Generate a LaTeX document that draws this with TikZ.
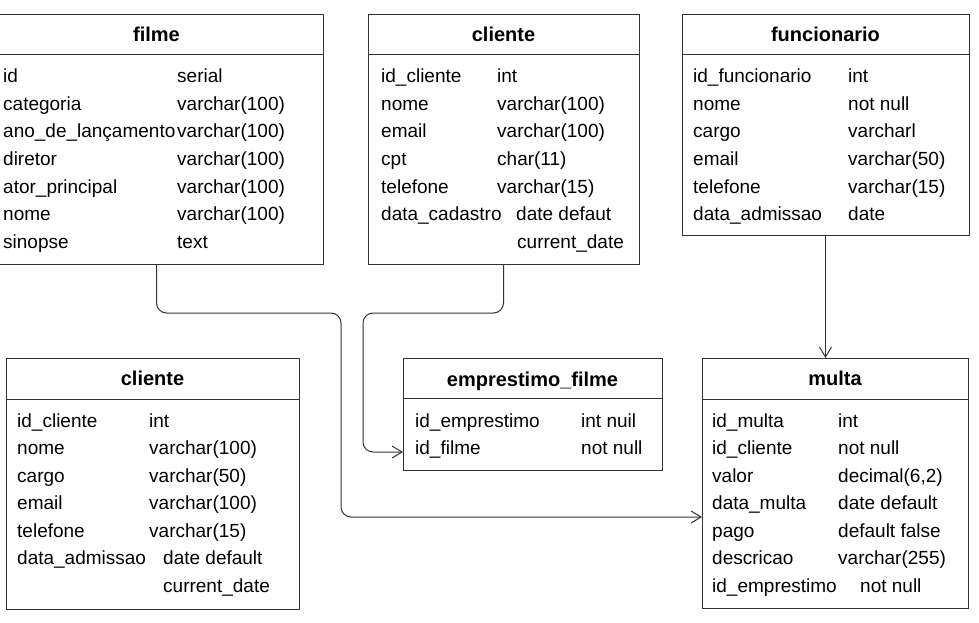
\documentclass[tikz,border=0pt]{standalone}
\usepackage{fontspec}
\setmainfont{Liberation Sans}
\usetikzlibrary{arrows.meta}
\definecolor{linha}{HTML}{333333}
\tikzset{
  tabela/.style={draw=linha, line width=1pt, inner sep=0pt, outer sep=0pt, anchor=north west},
  titulo/.style={font=\fontsize{20}{24}\selectfont\bfseries, anchor=base, inner sep=0pt},
  campo/.style={font=\fontsize{19}{23}\selectfont, anchor=base west, inner sep=0pt},
  ligacao/.style={draw=linha, line width=1pt, rounded corners=10pt, -{Straight Barb[length=10pt,width=12pt]}}
}
\begin{document}
\begin{tikzpicture}[x=1pt, y=-1pt]
  \useasboundingbox (0,0) rectangle (979,623);

  % filme
  \node[tabela, minimum width=333pt, minimum height=249pt] (filme) at (-10,15) {};
  \draw[linha, line width=1pt] ([yshift=-40pt]filme.north west) -- ([yshift=-40pt]filme.north east);
  \node[titulo] (filme-titulo) at ([yshift=-27pt]filme.north) {filme};
  \foreach \campo/\tipo [count=\i from 0] in {id/serial, categoria/varchar(100), ano\_de\_lançamento/varchar(100),
      diretor/varchar(100), ator\_principal/varchar(100), nome/varchar(100), sinopse/text} {
    \node[campo] (filme-c\i) at (3, 83+27.5*\i) {\campo};
    \node[campo] (filme-t\i) at (177, 83+27.5*\i) {\tipo};
  }

  % cliente (topo)
  \node[tabela, minimum width=271pt, minimum height=249pt] (cliente) at (368,15) {};
  \draw[linha, line width=1pt] ([yshift=-40pt]cliente.north west) -- ([yshift=-40pt]cliente.north east);
  \node[titulo] (cliente-titulo) at ([yshift=-27pt]cliente.north) {cliente};
  \foreach \campo/\tipo [count=\i from 0] in {id\_cliente/int, nome/varchar(100), email/varchar(100),
      cpt/char(11), telefone/varchar(15)} {
    \node[campo] (cliente-c\i) at (381, 83+27.5*\i) {\campo};
    \node[campo] (cliente-t\i) at (497, 83+27.5*\i) {\tipo};
  }
  \node[campo] (cliente-c5) at (381, 220.5) {data\_cadastro};
  \node[campo] (cliente-t5) at (516, 220.5) {date defaut};
  \node[campo] (cliente-t6) at (517, 248) {current\_date};

  % funcionario
  \node[tabela, minimum width=287pt, minimum height=220pt] (funcionario) at (682,15) {};
  \draw[linha, line width=1pt] ([yshift=-40pt]funcionario.north west) -- ([yshift=-40pt]funcionario.north east);
  \node[titulo] (funcionario-titulo) at ([yshift=-27pt]funcionario.north) {funcionario};
  \foreach \campo/\tipo [count=\i from 0] in {id\_funcionario/int, nome/not null, cargo/varcharl,
      email/varchar(50), telefone/varchar(15), data\_admissao/date} {
    \node[campo] (funcionario-c\i) at (693, 83+27.5*\i) {\campo};
    \node[campo] (funcionario-t\i) at (848, 83+27.5*\i) {\tipo};
  }

  % cliente (base)
  \node[tabela, minimum width=293pt, minimum height=251pt] (cliente2) at (6,358) {};
  \draw[linha, line width=1pt] ([yshift=-41pt]cliente2.north west) -- ([yshift=-41pt]cliente2.north east);
  \node[titulo] (cliente2-titulo) at ([yshift=-27pt]cliente2.north) {cliente};
  \foreach \campo/\tipo [count=\i from 0] in {id\_cliente/int, nome/varchar(100), cargo/varchar(50),
      email/varchar(100), telefone/varchar(15)} {
    \node[campo] (cliente2-c\i) at (17, 427+27.5*\i) {\campo};
    \node[campo] (cliente2-t\i) at (149, 427+27.5*\i) {\tipo};
  }
  \node[campo] (cliente2-c5) at (17, 564.5) {data\_admissao};
  \node[campo] (cliente2-t5) at (163, 564.5) {date default};
  \node[campo] (cliente2-t6) at (163, 592) {current\_date};

  % emprestimo_filme
  \node[tabela, minimum width=259pt, minimum height=112pt] (emprestimo) at (403,358) {};
  \draw[linha, line width=1pt] ([yshift=-40pt]emprestimo.north west) -- ([yshift=-40pt]emprestimo.north east);
  \node[titulo] (emprestimo-titulo) at ([yshift=-28pt]emprestimo.north) {emprestimo\_filme};
  \foreach \campo/\tipo [count=\i from 0] in {id\_emprestimo/int nuil, id\_filme/not null} {
    \node[campo] (emprestimo-c\i) at (415, 427+27.5*\i) {\campo};
    \node[campo] (emprestimo-t\i) at (581, 427+27.5*\i) {\tipo};
  }

  % multa
  \node[tabela, minimum width=266pt, minimum height=250pt] (multa) at (702,358) {};
  \draw[linha, line width=1pt] ([yshift=-41pt]multa.north west) -- ([yshift=-41pt]multa.north east);
  \node[titulo] (multa-titulo) at ([yshift=-27pt]multa.north) {multa};
  \foreach \campo/\tipo [count=\i from 0] in {id\_multa/int, id\_cliente/not null, valor/{decimal(6,2)},
      data\_multa/date default, pago/default false, descricao/varchar(255)} {
    \node[campo] (multa-c\i) at (712, 427+27.5*\i) {\campo};
    \node[campo] (multa-t\i) at (838, 427+27.5*\i) {\tipo};
  }
  \node[campo] (multa-c6) at (712, 592) {id\_emprestimo};
  \node[campo] (multa-t6) at (860, 592) {not null};

  % ligacoes
  \coordinate (multa-entrada) at (multa.west |- 0,517);
  \coordinate (emprestimo-entrada) at (emprestimo.west |- 0,452);
  \draw[ligacao] (filme.south) |- (341,313) |- (multa-entrada);
  \draw[ligacao] (cliente.south) |- (363,313) |- (emprestimo-entrada);
  \draw[ligacao] (funcionario.south) -- (funcionario.south |- multa.north);
\end{tikzpicture}
\end{document}
